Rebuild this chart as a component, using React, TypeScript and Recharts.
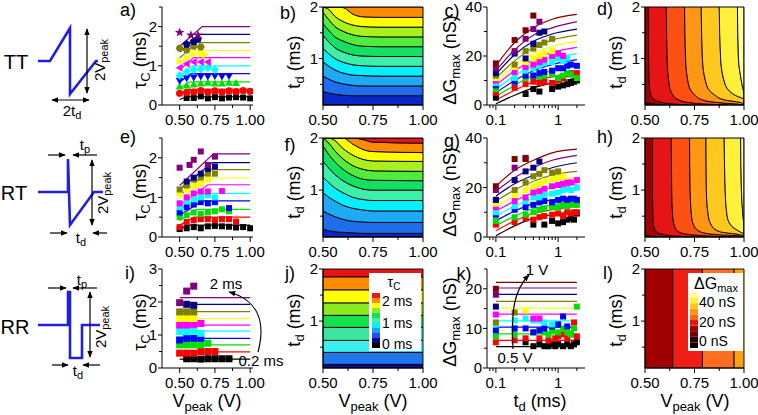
import React from 'react';
import { ComposedChart, LineChart, Line, Scatter, XAxis, YAxis, Area, ReferenceArea } from 'recharts';

const FONT = '"Liberation Sans", Arial, Helvetica, sans-serif';
const ML = 50, MR = 28, MT = 12, MB = 30;
const COLX: any = { a: [162, 253], b: [323, 423], c: [487, 585], d: [645, 744] };
const ROWY = [[7, 105], [138, 237], [269, 368]];

// ---------------- series colours / levels ----------------
const SERIES_COLORS = ['#000000', '#FF0000', '#00E000', '#0000FF', '#00FFFF', '#FF00FF', '#FFFF00', '#808000', '#000080', '#800080', '#800000'];
const TD_LEVELS = [0.2, 0.4, 0.6, 0.8, 1.0, 1.2, 1.4, 1.6, 1.8, 2.0];
const V_LEVELS = [0.5, 0.55, 0.6, 0.65, 0.7, 0.75, 0.8, 0.85, 0.9, 0.95, 1.0];
const A_MARKERS = ['square', 'circle', 'up', 'down', 'diamond', 'left', 'right', 'hex', 'pent', 'star'];

// ---------------- panel a (TT, tau vs Vpeak) ----------------
const aFitStart = [0.14, 0.27, 0.42, 0.58, 0.74, 0.9, 1.05, 1.2, 1.35, 1.5];
const aFitBend = [0.55, 0.56, 0.57, 0.58, 0.59, 0.6, 0.61, 0.62, 0.64, 0.66];
const aFitTop = [0.21, 0.4, 0.59, 0.8, 1.0, 1.21, 1.39, 1.59, 1.8, 2.0];
const aPts = [
  [[0.55, 0.18], [0.6, 0.18], [0.65, 0.22], [0.7, 0.17], [0.75, 0.2], [0.8, 0.17], [0.85, 0.19], [0.9, 0.2], [0.95, 0.19], [1.0, 0.17]],
  [[0.5, 0.3], [0.55, 0.32], [0.6, 0.33], [0.65, 0.37], [0.7, 0.33], [0.75, 0.36], [0.8, 0.33], [0.85, 0.36], [0.9, 0.34], [0.95, 0.37], [1.0, 0.35]],
  [[0.5, 0.47], [0.55, 0.5], [0.6, 0.52], [0.65, 0.55], [0.7, 0.57], [0.75, 0.55], [0.8, 0.55], [0.85, 0.57], [0.9, 0.56]],
  [[0.5, 0.62], [0.55, 0.68], [0.6, 0.7], [0.65, 0.73], [0.7, 0.73], [0.75, 0.74], [0.8, 0.73], [0.85, 0.74]],
  [[0.5, 0.75], [0.55, 0.85], [0.6, 0.9], [0.65, 0.92], [0.7, 0.95], [0.75, 0.9]],
  [[0.5, 0.95], [0.55, 1.05], [0.6, 1.1], [0.65, 1.1], [0.7, 1.1]],
  [[0.5, 1.12], [0.55, 1.2], [0.6, 1.3], [0.65, 1.3], [0.68, 1.28]],
  [[0.5, 1.45], [0.55, 1.4], [0.6, 1.5], [0.65, 1.48]],
  [[0.55, 1.55], [0.6, 1.62], [0.63, 1.68]],
  [[0.5, 1.85], [0.58, 1.78], [0.63, 1.78]],
];

// ---------------- panel e (RT, tau vs Vpeak) ----------------
const eFitStart = [0.18, 0.3, 0.42, 0.55, 0.68, 0.8, 0.95, 1.05, 1.2, 1.3];
const eFitBend = [0.55, 0.6, 0.63, 0.66, 0.68, 0.7, 0.71, 0.72, 0.73, 0.74];
const eFitTop = [0.3, 0.5, 0.7, 0.91, 1.1, 1.32, 1.49, 1.7, 1.88, 2.1];
const ePts = [
  [[0.5, 0.2], [0.55, 0.22], [0.6, 0.25], [0.65, 0.22], [0.7, 0.27], [0.75, 0.28], [0.8, 0.27], [0.85, 0.26], [0.9, 0.24], [0.95, 0.25], [1.0, 0.22]],
  [[0.5, 0.25], [0.55, 0.38], [0.6, 0.42], [0.65, 0.45], [0.7, 0.45], [0.75, 0.42], [0.8, 0.45], [0.85, 0.45], [0.9, 0.39]],
  [[0.5, 0.5], [0.55, 0.55], [0.6, 0.62], [0.65, 0.58], [0.7, 0.62], [0.75, 0.65], [0.8, 0.7], [0.85, 0.65]],
  [[0.5, 0.62], [0.55, 0.75], [0.6, 0.82], [0.65, 0.88], [0.7, 0.85], [0.75, 0.88], [0.85, 0.73]],
  [[0.5, 0.75], [0.55, 0.9], [0.6, 0.95], [0.65, 1.0], [0.7, 1.05], [0.75, 1.0]],
  [[0.5, 0.85], [0.55, 1.0], [0.6, 1.1], [0.65, 1.15], [0.7, 1.15], [0.8, 1.16]],
  [[0.5, 1.1], [0.55, 1.2], [0.6, 1.3], [0.65, 1.35], [0.7, 1.45]],
  [[0.5, 1.2], [0.55, 1.3], [0.6, 1.45], [0.65, 1.5], [0.7, 1.6], [0.75, 1.6]],
  [[0.55, 1.4], [0.6, 1.5], [0.65, 1.6], [0.7, 1.72], [0.75, 1.78]],
  [[0.5, 1.75], [0.57, 1.82], [0.6, 1.95], [0.65, 2.16], [0.7, 1.82], [0.75, 2.03]],
];

// ---------------- panel i (RR, tau vs Vpeak) ----------------
const iFitTop = [0.27, 0.49, 0.7, 0.9, 1.12, 1.3, 1.5, 1.71, 1.93, 2.13];
const iPts = [
  [[0.55, 0.28], [0.6, 0.28], [0.65, 0.27], [0.7, 0.28], [0.75, 0.28], [0.8, 0.28], [0.85, 0.28]],
  [[0.5, 0.45], [0.55, 0.45], [0.6, 0.45], [0.65, 0.5], [0.7, 0.5], [0.75, 0.5]],
  [[0.5, 0.7], [0.55, 0.7], [0.6, 0.7], [0.65, 0.7], [0.7, 0.75]],
  [[0.5, 0.85], [0.55, 0.9], [0.6, 0.9], [0.65, 0.9]],
  [[0.5, 1.1], [0.55, 1.1], [0.6, 1.12], [0.65, 1.05]],
  [[0.5, 1.3], [0.55, 1.3], [0.6, 1.32], [0.65, 1.35]],
  [[0.5, 1.5], [0.55, 1.5], [0.6, 1.5]],
  [[0.5, 1.7], [0.55, 1.7], [0.6, 1.7]],
  [[0.55, 1.93], [0.6, 1.9]],
  [[0.5, 1.98], [0.55, 2.33], [0.6, 2.48]],
];

// ---------------- panel c (TT, dG vs td) ----------------
const FIT_TD = [0.1, 0.2, 0.4, 0.8, 2.0];
const cFit = [
  [0.5, 4, 7, 9, 11], [2, 6, 9.5, 11.5, 13.5], [3.5, 8, 12, 14, 16], [5, 10, 14, 16.5, 18.5],
  [6.5, 12, 16, 19, 21], [8, 14, 18.5, 21.5, 23.5], [9.5, 16, 21, 24, 26], [11, 18, 23.5, 26.5, 28.5],
  [12.5, 20.5, 26, 29, 31], [14, 22.5, 28.5, 31.5, 34], [16, 25.5, 31.5, 35, 37],
];
const cPts = [
  [[0.1, 3], [0.3, 4.5], [0.4, 6.5], [0.5, 5.5], [0.8, 6.5], [1.0, 7.5], [1.2, 8], [1.4, 8.5], [1.6, 9], [1.8, 9.5], [2.0, 10]],
  [[0.1, 5], [0.2, 7], [0.3, 8.5], [0.4, 9.5], [0.5, 9], [0.6, 9.5], [0.8, 9], [1.0, 10], [1.2, 11], [1.4, 12.5], [1.6, 13], [1.8, 12.5], [2.0, 13]],
  [[0.1, 6.5], [0.2, 10], [0.3, 11], [0.4, 12], [0.5, 11.5], [0.6, 12], [0.8, 12.5], [1.0, 11], [1.2, 12], [1.4, 13], [1.6, 12.5], [2.0, 11]],
  [[0.1, 8], [0.2, 9.5], [0.3, 12], [0.4, 12], [0.5, 13], [0.6, 13.5], [0.8, 14], [1.0, 15], [1.2, 15], [1.4, 16], [1.6, 16.5], [2.0, 16]],
  [[0.1, 9], [0.2, 11], [0.3, 14], [0.4, 15], [0.5, 16], [0.6, 17], [0.8, 17.5], [1.0, 19], [1.2, 18], [1.4, 19]],
  [[0.1, 10], [0.2, 13.5], [0.3, 15.5], [0.4, 16.5], [0.5, 17.5], [0.6, 18.5], [0.8, 20], [1.0, 21], [1.2, 20]],
  [[0.1, 11], [0.2, 15.5], [0.3, 17.5], [0.4, 19], [0.5, 20], [0.6, 21], [0.8, 22]],
  [[0.1, 12], [0.2, 16.5], [0.3, 22], [0.4, 23], [0.5, 24.5], [0.6, 25.5], [0.8, 27]],
  [[0.1, 13], [0.2, 21], [0.3, 19], [0.4, 25], [0.5, 29.5], [0.6, 30]],
  [[0.1, 15], [0.2, 22], [0.3, 27], [0.4, 31], [0.5, 34]],
  [[0.1, 17], [0.2, 26.5], [0.3, 30.5], [0.4, 36.5]],
];

// ---------------- panel g (RT, dG vs td) ----------------
const gFit = [
  [0.5, 4.5, 7.5, 9, 10.5], [2.5, 6.5, 9.5, 11, 12.5], [4.5, 8.5, 11.5, 13, 14.5], [6.5, 10.5, 13.5, 15, 16.5],
  [8.5, 12.5, 15.5, 17.5, 19], [10.5, 14.5, 18, 20, 21.5], [12.5, 16.5, 20, 22.5, 24], [14.5, 19, 22.5, 25, 26.5],
  [16.5, 21.5, 25, 28, 30], [18.5, 24, 28, 31, 33], [20.5, 27, 31, 34, 35.5],
];
const gPts = [
  [[0.4, 5], [0.6, 5], [0.8, 6.5], [1.0, 5.5], [1.2, 6], [1.4, 7], [1.6, 7.5], [1.8, 7], [2.0, 9.5]],
  [[0.1, 5], [0.2, 6], [0.3, 7.5], [0.4, 7], [0.5, 8], [0.6, 8.5], [0.8, 9], [1.0, 9.5], [1.2, 8.5], [1.4, 10], [1.6, 9.5], [1.8, 10], [2.0, 10]],
  [[0.1, 6.5], [0.2, 8], [0.3, 9], [0.4, 10], [0.5, 11], [0.6, 11.5], [0.8, 12], [1.0, 12], [1.2, 13], [1.4, 12.5], [1.6, 13.5], [1.8, 13], [2.0, 13]],
  [[0.1, 9], [0.2, 11], [0.3, 12], [0.4, 13], [0.5, 14], [0.6, 14.5], [0.8, 14], [1.0, 15], [1.2, 15.5], [1.4, 15], [1.6, 15.5], [2.0, 15]],
  [[0.1, 10], [0.2, 12.5], [0.3, 14.5], [0.4, 16], [0.5, 16], [0.6, 17], [0.8, 17.5], [1.0, 18], [1.2, 19], [1.4, 19.5], [1.6, 19], [2.0, 20]],
  [[0.1, 12], [0.2, 14.5], [0.3, 16], [0.4, 18], [0.5, 18.5], [0.6, 19.5], [0.8, 20.5], [1.0, 21], [1.2, 21.5], [1.4, 22], [1.6, 22], [2.0, 23]],
  [[0.1, 13.5], [0.2, 17], [0.3, 19], [0.4, 20.5], [0.5, 21.5], [0.6, 22.5], [0.8, 23.5], [1.0, 24], [1.2, 24.5]],
  [[0.1, 15], [0.2, 19], [0.3, 22], [0.4, 24.5], [0.5, 25.5], [0.6, 27], [0.8, 26], [1.0, 26.5]],
  [[0.1, 15], [0.2, 23], [0.3, 26.5], [0.4, 28], [0.5, 30.5]],
  [[0.1, 19], [0.2, 28], [0.3, 32]],
  [[0.1, 20.5], [0.2, 31.5], [0.3, 31.5]],
];

// ---------------- panel k (RR, dG vs td) ----------------
const kFitTop = [5.4, 7.0, 8.6, 10.3, 11.9, 13.6, 15.1, 16.8, 18.6, 20.2, 21.6];
const kPts = [
  [[0.3, 6.5], [0.4, 5.5], [0.5, 6], [0.6, 5.5], [0.7, 5.5], [0.8, 6], [0.9, 5.5], [1.0, 6], [1.2, 5.5], [1.4, 6], [1.6, 5.5], [1.8, 6], [2.0, 6.5]],
  [[0.1, 6.5], [0.2, 7], [0.3, 7.5], [0.5, 7.5], [0.7, 7], [0.9, 7.5], [1.0, 8], [1.2, 8.5], [1.4, 7.5], [1.6, 8.5], [1.8, 11.5], [2.0, 8]],
  [[0.1, 8], [0.2, 8.5], [0.4, 9], [0.6, 9], [0.7, 8.5], [0.8, 9.5], [1.0, 9], [1.2, 10], [1.4, 9], [1.6, 8.5], [1.8, 10], [2.0, 15.5]],
  [[0.1, 9.5], [0.2, 10], [0.3, 10], [0.4, 9], [0.5, 9.5], [0.6, 10], [0.8, 10.5], [1.0, 11], [1.2, 13], [1.4, 10.5]],
  [[0.1, 11], [0.2, 12], [0.3, 12.5], [0.4, 12], [0.5, 12], [0.6, 11.5], [0.8, 11]],
  [[0.1, 13.5], [0.4, 12.5], [0.5, 12.5]],
  [[0.3, 14.5]],
  [[0.1, 11.5], [0.2, 14]],
  [[0.1, 15.5]],
  [[0.1, 18.5]],
  [[0.1, 20]],
];

// ---------------- contour maps ----------------
const TAU_BAND_COLORS = ['#0A28C8', '#1E6EEB', '#1EAAF5', '#00F0FF', '#3CF0AA', '#14E164', '#50EB3C', '#AAF01E', '#FFFF00', '#FF8C00', '#E61414'];
const bV = [0.5, 0.53, 0.56, 0.6, 0.65, 0.7, 0.8, 1.0];
const bLines = [
  [0.36, 0.33, 0.31, 0.29, 0.28, 0.28, 0.28, 0.28],
  [0.66, 0.6, 0.55, 0.51, 0.48, 0.47, 0.47, 0.47],
  [0.94, 0.85, 0.78, 0.72, 0.68, 0.67, 0.66, 0.66],
  [1.2, 1.09, 1.0, 0.93, 0.88, 0.86, 0.85, 0.85],
  [1.45, 1.32, 1.21, 1.13, 1.07, 1.05, 1.04, 1.04],
  [1.68, 1.54, 1.42, 1.34, 1.27, 1.24, 1.23, 1.23],
  [1.9, 1.75, 1.62, 1.53, 1.46, 1.43, 1.42, 1.42],
  [2, 1.95, 1.82, 1.72, 1.65, 1.62, 1.61, 1.61],
  [2, 2, 2, 1.99, 1.86, 1.81, 1.8, 1.8],
];
const fV = [0.5, 0.53, 0.56, 0.6, 0.65, 0.7, 0.75, 1.0];
const fLines = [
  [0.25, 0.22, 0.2, 0.19, 0.18, 0.17, 0.17, 0.17],
  [0.6, 0.54, 0.49, 0.44, 0.4, 0.39, 0.38, 0.38],
  [0.95, 0.86, 0.79, 0.71, 0.65, 0.62, 0.6, 0.6],
  [1.25, 1.14, 1.04, 0.95, 0.86, 0.82, 0.8, 0.8],
  [1.55, 1.42, 1.3, 1.18, 1.08, 1.02, 1.0, 1.0],
  [1.85, 1.68, 1.54, 1.4, 1.28, 1.21, 1.19, 1.18],
  [2, 1.9, 1.75, 1.6, 1.47, 1.4, 1.37, 1.36],
  [2, 2, 1.95, 1.8, 1.67, 1.59, 1.56, 1.55],
  [2, 2, 2, 2, 1.88, 1.78, 1.74, 1.72],
  [2, 2, 2, 2, 2, 1.97, 1.92, 1.9],
];
const G_BAND_COLORS = ['#000000', '#A00000', '#E61414', '#FF5014', '#FF9614', '#FFC81E', '#FFF03C', '#FFFF9B'];
const dTd = [0.1, 0.12, 0.15, 0.2, 0.3, 0.5, 1.0, 2.0];
const dLines = [
  [0.6, 0.54, 0.5, 0.5, 0.5, 0.5, 0.5, 0.5],
  [0.72, 0.64, 0.585, 0.55, 0.53, 0.522, 0.518, 0.517],
  [0.92, 0.8, 0.72, 0.67, 0.64, 0.622, 0.612, 0.608],
  [1, 0.96, 0.86, 0.79, 0.75, 0.72, 0.705, 0.7],
  [1, 1, 0.98, 0.9, 0.85, 0.81, 0.79, 0.784],
  [1, 1, 1, 1, 0.95, 0.905, 0.882, 0.875],
  [1, 1, 1, 1, 1, 0.99, 0.972, 0.967],
];
const hLines = [
  [0.58, 0.52, 0.5, 0.5, 0.5, 0.5, 0.5, 0.5],
  [0.75, 0.65, 0.59, 0.56, 0.545, 0.54, 0.538, 0.538],
  [0.95, 0.82, 0.72, 0.67, 0.65, 0.64, 0.635, 0.633],
  [1, 0.98, 0.85, 0.78, 0.75, 0.735, 0.728, 0.725],
  [1, 1, 0.97, 0.88, 0.84, 0.82, 0.81, 0.808],
  [1, 1, 1, 0.98, 0.94, 0.915, 0.905, 0.9],
  [1, 1, 1, 1, 1, 0.995, 0.987, 0.983],
];
const jBounds = [0.1, 0.17, 0.4, 0.63, 0.88, 1.11, 1.35, 1.6, 1.85, 2.0];
const jColors = ['#0A0A8C', '#1E78EB', '#3CF0F0', '#3CE6A0', '#14E150', '#8CEB1E', '#FFFF00', '#FF8C00', '#E61414'];
const lBounds = [0.5, 0.64, 0.79, 0.95, 1.0];
const lColors = ['#A00000', '#F01E14', '#FF6E1E', '#FFA014'];
const TAU_BAR = ['#000000', '#0A0A8C', '#1E50F0', '#1EA0F5', '#00F0FF', '#3CF0AA', '#14E150', '#8CEB1E', '#FFFF00', '#FF8C00', '#F01414'];
const G_BAR = ['#000000', '#2A0000', '#700000', '#A00000', '#E61414', '#FF6414', '#FF9614', '#FFC81E', '#FFF03C', '#FFFFA0'];

// ---------------- schematics ----------------
const ttWave = [[0, 0], [0.6, 0], [1.6, 1], [1.6, -1], [2.9, 0], [3.0, 0]];
const rtWave = [[0, 0], [1.5, 0], [1.5, 1], [1.6, -1], [2.8, 0], [3.25, 0]];
const rrWave = [[0, 0], [1.5, 0], [1.5, 1], [1.6, 1], [1.6, -1], [2.2, -1], [2.2, 0], [3.1, 0]];

// ---------------- ticks ----------------
const V_TICKS = [0.5, 0.625, 0.75, 0.875, 1.0];
const V_LABELS: any = [[0.5, '0.50'], [0.75, '0.75'], [1, '1.00']];
const LOG_TICKS = [0.08, 0.09, 0.1, 0.2, 0.3, 0.4, 0.5, 0.6, 0.7, 0.8, 0.9, 1, 2];
const LOG_LABELS: any = [[0.1, '0.1'], [1, '1']];
const TD_TICKS = [0.5, 1, 1.5, 2];
const TD_LABELS: any = [[1, '1'], [2, '2']];

const findLab = (labels: any[], v: number) => labels.find((L: any) => Math.abs(L[0] - v) < 1e-9);
const makeXTick = (labels: any[]) => (p: any) => {
  const l = findLab(labels, p.payload.value);
  return (
    <g>
      <line x1={p.x} x2={p.x} y1={p.y} y2={p.y + (l ? 5 : 3)} stroke="#000" strokeWidth={1} />
      {l && <text x={p.x} y={p.y + 8} dy="0.78em" textAnchor="middle" fontSize={15} fontFamily={FONT} fill="#000">{l[1]}</text>}
    </g>
  );
};
const makeYTick = (labels: any[]) => (p: any) => {
  const l = findLab(labels, p.payload.value);
  return (
    <g>
      <line x1={p.x - (l ? 4 : 3)} x2={p.x} y1={p.y} y2={p.y} stroke="#000" strokeWidth={1} />
      {l && <text x={p.x - 5} y={p.y} dy="0.35em" textAnchor="end" fontSize={15} fontFamily={FONT} fill="#000">{l[1]}</text>}
    </g>
  );
};

const xAxis = (domain: any, ticks: number[], labels: any[], extra: any = {}) => (
  <XAxis type="number" dataKey="x" domain={domain} ticks={ticks} allowDataOverflow interval={0}
    tickLine={false} tickSize={0} tickMargin={0} height={MB} axisLine={{ stroke: '#000', strokeWidth: 1 }}
    tick={makeXTick(labels)} {...extra} />
);
const yAxis = (domain: any, ticks: number[], labels: any[], extra: any = {}) => (
  <YAxis type="number" dataKey="y" domain={domain} ticks={ticks} allowDataOverflow interval={0}
    tickLine={false} tickSize={0} tickMargin={0} width={ML} axisLine={{ stroke: '#000', strokeWidth: 1 }}
    tick={makeYTick(labels)} {...extra} />
);

// ---------------- marker shapes ----------------
const ptsStr = (cx: number, cy: number, pts: number[][]) => pts.map(([dx, dy]) => `${cx + dx},${cy + dy}`).join(' ');
const regular = (n: number, r: number, rot: number) => Array.from({ length: n }, (_, i) => [r * Math.cos(rot + (i * 2 * Math.PI) / n), r * Math.sin(rot + (i * 2 * Math.PI) / n)]);
const starShape = Array.from({ length: 10 }, (_, i) => {
  const r = i % 2 === 0 ? 5 : 2.1;
  const a = -Math.PI / 2 + (i * Math.PI) / 5;
  return [r * Math.cos(a), r * Math.sin(a)];
});
const POLY: any = {
  up: [[0, -4], [4, 3], [-4, 3]],
  down: [[0, 4], [4, -3], [-4, -3]],
  diamond: [[0, -4.5], [4, 0], [0, 4.5], [-4, 0]],
  left: [[-4, 0], [3, -4], [3, 4]],
  right: [[4, 0], [-3, -4], [-3, 4]],
  hex: regular(6, 4, 0),
  pent: regular(5, 4.2, -Math.PI / 2),
  star: starShape,
};
const marker = (kind: string, color: string, size = 6) => (p: any) => {
  if (p.cx == null || p.cy == null) return <g />;
  if (kind === 'square') return <rect x={p.cx - size / 2} y={p.cy - size / 2} width={size} height={size} fill={color} />;
  if (kind === 'circle') return <circle cx={p.cx} cy={p.cy} r={3.6} fill={color} />;
  return <polygon points={ptsStr(p.cx, p.cy, POLY[kind])} fill={color} />;
};

const toXY = (pts: number[][]) => pts.map(([x, y]) => ({ x, y }));

// ---------------- panel frame ----------------
function Panel({ col, row, layout = 'horizontal', data, children }: any) {
  const [x0, x1] = COLX[col];
  const [y0, y1] = ROWY[row];
  const W = x1 - x0 + ML + MR;
  const H = y1 - y0 + MT + MB;
  return (
    <div style={{ position: 'absolute', left: x0 - ML, top: y0 - MT, width: W, height: H }}>
      <ComposedChart width={W} height={H} data={data} layout={layout} margin={{ top: MT, right: MR, bottom: 0, left: 0 }}>
        {children}
      </ComposedChart>
    </div>
  );
}

function tauScatterPanel(row: number, fitData: any[], pts: number[][][], markers: string[] | null, yMax: number, yTicks: number[], yLabels: any[]) {
  return (
    <Panel col="a" row={row}>
      {xAxis([0.375, 1.02], V_TICKS, V_LABELS)}
      {yAxis([0, yMax], yTicks, yLabels)}
      {fitData.map((d, i) => (
        <Line key={'f' + i} data={d} dataKey="y" stroke={SERIES_COLORS[i]} strokeWidth={1.2} dot={false} activeDot={false} isAnimationActive={false} type="linear" />
      ))}
      {pts.map((p, i) => (
        <Scatter key={'s' + i} data={toXY(p)} fill={SERIES_COLORS[i]} isAnimationActive={false}
          shape={marker(markers ? markers[i] : 'square', SERIES_COLORS[i], row === 2 ? 7 : 6)} />
      ))}
    </Panel>
  );
}

function gScatterPanel(row: number, fitData: any[], pts: number[][][], yMax: number, yTicks: number[], yLabels: any[], curve: string) {
  return (
    <Panel col="c" row={row}>
      {xAxis([0.072, 2.7], LOG_TICKS, LOG_LABELS, { scale: 'log' })}
      {yAxis([0, yMax], yTicks, yLabels)}
      {fitData.map((d, i) => (
        <Line key={'f' + i} data={d} dataKey="y" stroke={SERIES_COLORS[i]} strokeWidth={1.2} dot={false} activeDot={false} isAnimationActive={false} type={curve as any} />
      ))}
      {pts.map((p, i) => (
        <Scatter key={'s' + i} data={toXY(p)} fill={SERIES_COLORS[i]} isAnimationActive={false} shape={marker('square', SERIES_COLORS[i], 6)} />
      ))}
    </Panel>
  );
}

function tauContour(row: number, grid: number[], lines: number[][]) {
  const rows = grid.map((v, j) => {
    const r: any = { x: v, l0: 0.1 };
    lines.forEach((ln, i) => { r['l' + (i + 1)] = ln[j]; });
    r['l' + (lines.length + 1)] = 2.0;
    return r;
  });
  const nb = lines.length + 1;
  return (
    <Panel col="b" row={row} data={rows}>
      {xAxis([0.5, 1.0], V_TICKS, V_LABELS)}
      {yAxis([0.1, 2], TD_TICKS, TD_LABELS)}
      {Array.from({ length: nb }, (_, i) => (
        <Area key={i} dataKey={(r: any) => [r['l' + i], r['l' + (i + 1)]]} type="monotone" fill={TAU_BAND_COLORS[i]} fillOpacity={1}
          stroke="#000" strokeWidth={0.9} dot={false} activeDot={false} isAnimationActive={false} />
      ))}
      <ReferenceArea x1={0.5} x2={1} y1={0.1} y2={2} fill="#fff" fillOpacity={0} stroke="#000" strokeWidth={1} ifOverflow="visible" />
    </Panel>
  );
}

function gContour(row: number, lines: number[][]) {
  const rows = dTd.map((t, j) => {
    const r: any = { y: t, l0: 0.5 };
    lines.forEach((ln, i) => { r['l' + (i + 1)] = ln[j]; });
    r['l' + (lines.length + 1)] = 1.0;
    return r;
  });
  const nb = lines.length + 1;
  return (
    <Panel col="d" row={row} data={rows} layout="vertical">
      {xAxis([0.5, 1.0], V_TICKS, V_LABELS)}
      {yAxis([0.1, 2], TD_TICKS, TD_LABELS, { reversed: true })}
      {Array.from({ length: nb }, (_, i) => (
        <Area key={i} dataKey={(r: any) => [r['l' + i], r['l' + (i + 1)]]} type="monotone" fill={G_BAND_COLORS[i]} fillOpacity={1}
          stroke="#000" strokeWidth={0.9} dot={false} activeDot={false} isAnimationActive={false} />
      ))}
      <ReferenceArea x1={0.5} x2={1} y1={0.1} y2={2} fill="#fff" fillOpacity={0} stroke="#000" strokeWidth={1} ifOverflow="visible" />
    </Panel>
  );
}

function Schematic({ wave, cy }: any) {
  const x0 = 38, x1 = 104, pad = 4;
  const data = wave.map(([t, v]: number[]) => ({ t, v }));
  return (
    <div style={{ position: 'absolute', left: x0 - pad, top: cy - 33 - pad, width: x1 - x0 + 2 * pad, height: 66 + 2 * pad }}>
      <LineChart width={x1 - x0 + 2 * pad} height={66 + 2 * pad} data={data} margin={{ top: pad, right: pad, bottom: pad, left: pad }}>
        <XAxis type="number" dataKey="t" domain={[0, 3.3]} hide />
        <YAxis type="number" domain={[-1, 1]} hide />
        <Line dataKey="v" type="linear" stroke="#1F1FE0" strokeWidth={2.6} dot={false} activeDot={false} isAnimationActive={false} strokeLinejoin="miter" />
      </LineChart>
    </div>
  );
}

// ---------------- text helpers ----------------
function STxt({ x, y, main, sub = '', tail = '', size = 18, rotate = false, anchor = 'middle' }: any) {
  const s2 = Math.round(size * 0.7);
  const sh = size * 0.3;
  return (
    <text x={x} y={y} textAnchor={anchor} dominantBaseline="central" fontSize={size} fontFamily={FONT} fill="#000"
      transform={rotate ? `rotate(-90 ${x} ${y})` : undefined}>
      {main}
      {sub && <tspan fontSize={s2} dy={sh}>{sub}</tspan>}
      {tail && <tspan dy={sub ? -sh : 0}>{tail}</tspan>}
    </text>
  );
}

const PANEL_LETTERS: any = [['a)', 128, 10], ['b)', 288, 13], ['c)', 452, 11], ['d)', 605, 9], ['e)', 128, 137], ['f)', 290, 145], ['g)', 452, 141], ['h)', 605, 137], ['i)', 130, 273], ['j)', 290, 273], ['k)', 464, 274], ['l)', 608, 273]];

function Overlay() {
  const A = { stroke: '#000', strokeWidth: 1.2, markerEnd: 'url(#ah)' };
  const AA = { stroke: '#000', strokeWidth: 1.2, markerEnd: 'url(#ah)', markerStart: 'url(#ah)' };
  return (
    <svg width={758} height={415} style={{ position: 'absolute', left: 0, top: 0, pointerEvents: 'none' }}>
      <defs>
        <marker id="ah" viewBox="0 0 10 10" refX="9" refY="5" markerWidth="7" markerHeight="7" markerUnits="userSpaceOnUse" orient="auto-start-reverse">
          <path d="M0,1 L10,5 L0,9 z" fill="#000" />
        </marker>
      </defs>
      {PANEL_LETTERS.map(([t, x, y]: any) => (
        <text key={t} x={x} y={y} textAnchor="middle" dominantBaseline="central" fontSize={18} fontFamily={FONT}>{t}</text>
      ))}
      {/* y titles */}
      {[60, 192, 322].map((y) => <STxt key={'tc' + y} x={140} y={y} main="τ" sub="C" tail=" (ms)" rotate />)}
      {[[294, 62], [294, 192], [294, 320], [616, 62], [616, 192], [616, 320]].map(([x, y]) => <STxt key={'td' + x + y} x={x} y={y} main="t" sub="d" tail=" (ms)" rotate />)}
      {[[450, 60], [450, 192], [450, 322]].map(([x, y]) => <STxt key={'dg' + y} x={x} y={y} main="ΔG" sub="max" tail=" (nS)" rotate />)}
      {/* x titles */}
      {[207, 373, 695].map((x) => <STxt key={'vp' + x} x={x} y={401} main="V" sub="peak" tail=" (V)" />)}
      <STxt x={540} y={401} main="t" sub="d" tail=" (ms)" />

      {/* schematic labels */}
      <STxt x={16} y={62} main="TT" size={20} />
      <STxt x={14} y={193} main="RT" size={20} />
      <STxt x={15} y={327} main="RR" size={20} />
      <STxt x={99} y={60} main="2V" sub="peak" size={15} rotate />
      <STxt x={102} y={193} main="2V" sub="peak" size={15} rotate />
      <STxt x={100} y={327} main="2V" sub="peak" size={15} rotate />
      <STxt x={72} y={110} main="2t" sub="d" size={15} />
      <STxt x={85} y={144} main="t" sub="p" size={15} />
      <STxt x={81} y={237} main="t" sub="d" size={15} />
      <STxt x={82} y={279} main="t" sub="p" size={15} />
      <STxt x={78} y={370} main="t" sub="d" size={15} />
      {/* schematic arrows */}
      <line x1={87} y1={29} x2={87} y2={93} {...AA} />
      <line x1={52} y1={100} x2={89} y2={100} {...AA} />
      <line x1={48} y1={155} x2={65} y2={155} {...A} />
      <line x1={97} y1={155} x2={73} y2={155} {...A} />
      <line x1={92} y1={160} x2={92} y2={225} {...AA} />
      <line x1={50} y1={233} x2={67} y2={233} {...A} />
      <line x1={107} y1={233} x2={93} y2={233} {...A} />
      <line x1={48} y1={288} x2={66} y2={288} {...A} />
      <line x1={97} y1={288} x2={73} y2={288} {...A} />
      <line x1={90} y1={292} x2={90} y2={357} {...AA} />
      <line x1={52} y1={365} x2={68} y2={365} {...A} />
      <line x1={100} y1={365} x2={83} y2={365} {...A} />

      {/* i annotation */}
      <path d="M258,352 C266,322 258,300 229,292" fill="none" {...A} />
      <text x={226} y={283} textAnchor="middle" dominantBaseline="central" fontSize={15} fontFamily={FONT}>2 ms</text>
      <text x={261} y={360} textAnchor="middle" dominantBaseline="central" fontSize={15} fontFamily={FONT}>0.2 ms</text>
      {/* k annotation */}
      <path d="M513,349 C511,310 514,290 529,275" fill="none" {...A} />
      <text x={537} y={269} textAnchor="middle" dominantBaseline="central" fontSize={15} fontFamily={FONT}>1 V</text>
      <text x={515} y={357} textAnchor="middle" dominantBaseline="central" fontSize={15} fontFamily={FONT}>0.5 V</text>

      {/* j colour bar */}
      <rect x={369} y={273} width={52} height={78} fill="#fff" />
      <STxt x={394} y={282} main="τ" sub="C" size={14} />
      {TAU_BAR.map((c, i) => <rect key={'tb' + i} x={372} y={348 - (i + 1) * 5} width={8} height={5} fill={c} />)}
      {[['2 ms', 301], ['1 ms', 323], ['0 ms', 344]].map(([t, y]: any) => (
        <text key={t} x={382} y={y} dominantBaseline="central" fontSize={14} fontFamily={FONT}>{t}</text>
      ))}
      {/* l colour bar */}
      <rect x={688} y={273} width={55} height={78} fill="#fff" />
      <STxt x={716} y={283} main="ΔG" sub="max" size={16} />
      {G_BAR.map((c, i) => <rect key={'gb' + i} x={690} y={348 - (i + 1) * 5.6} width={8} height={5.6} fill={c} />)}
      {[['40 nS', 302], ['20 nS', 322], ['0 nS', 341]].map(([t, y]: any) => (
        <text key={t} x={699} y={y} dominantBaseline="central" fontSize={14} fontFamily={FONT}>{t}</text>
      ))}
    </svg>
  );
}

export default function App() {
  const aFits = TD_LEVELS.map((_, i) => [{ x: 0.5, y: aFitStart[i] }, { x: aFitBend[i], y: aFitTop[i] }, { x: 1.0, y: aFitTop[i] }]);
  const eFits = TD_LEVELS.map((_, i) => [{ x: 0.5, y: eFitStart[i] }, { x: eFitBend[i], y: eFitTop[i] }, { x: 1.0, y: eFitTop[i] }]);
  const iFits = TD_LEVELS.map((_, i) => [{ x: 0.5, y: iFitTop[i] }, { x: 1.0, y: iFitTop[i] }]);
  const cFits = V_LEVELS.map((_, i) => FIT_TD.map((t, j) => ({ x: t, y: cFit[i][j] })));
  const gFits = V_LEVELS.map((_, i) => FIT_TD.map((t, j) => ({ x: t, y: gFit[i][j] })));
  const kFits = V_LEVELS.map((_, i) => [{ x: 0.1, y: kFitTop[i] }, { x: 2.0, y: kFitTop[i] }]);
  const corner = [{ x: 0.5, y: 0.1 }, { x: 1, y: 2 }];

  return (
    <div style={{ position: 'absolute', left: 0, top: 0, width: 758, height: 415, background: '#fff', overflow: 'hidden', fontFamily: FONT }}>
      <Schematic wave={ttWave} cy={61} />
      <Schematic wave={rtWave} cy={192} />
      <Schematic wave={rrWave} cy={325} />

      {tauScatterPanel(0, aFits, aPts, A_MARKERS, 2.5, [0, 0.5, 1, 1.5, 2, 2.5], [[0, '0'], [1, '1'], [2, '2']])}
      {tauScatterPanel(1, eFits, ePts, null, 2.5, [0, 0.5, 1, 1.5, 2, 2.5], [[0, '0'], [1, '1'], [2, '2']])}
      {tauScatterPanel(2, iFits, iPts, null, 3, [0, 0.5, 1, 1.5, 2, 2.5, 3], [[0, '0'], [1, '1'], [2, '2'], [3, '3']])}

      {tauContour(0, bV, bLines)}
      {tauContour(1, fV, fLines)}
      <Panel col="b" row={2} data={corner}>
        {xAxis([0.5, 1.0], V_TICKS, V_LABELS)}
        {yAxis([0.1, 2], TD_TICKS, TD_LABELS)}
        {jColors.map((c, i) => (
          <ReferenceArea key={i} x1={0.5} x2={1} y1={jBounds[i]} y2={jBounds[i + 1]} fill={c} fillOpacity={1} stroke="#000" strokeWidth={0.9} ifOverflow="visible" />
        ))}
      </Panel>

      {gScatterPanel(0, cFits, cPts, 40, [0, 10, 20, 30, 40], [[0, '0'], [20, '20'], [40, '40']], 'monotone')}
      {gScatterPanel(1, gFits, gPts, 40, [0, 10, 20, 30, 40], [[0, '0'], [20, '20'], [40, '40']], 'monotone')}
      {gScatterPanel(2, kFits, kPts, 25, [0, 5, 10, 15, 20, 25], [[0, '0'], [10, '10'], [20, '20']], 'linear')}

      {gContour(0, dLines)}
      {gContour(1, hLines)}
      <Panel col="d" row={2} data={corner}>
        {xAxis([0.5, 1.0], V_TICKS, V_LABELS)}
        {yAxis([0.1, 2], TD_TICKS, TD_LABELS)}
        {lColors.map((c, i) => (
          <ReferenceArea key={i} x1={lBounds[i]} x2={lBounds[i + 1]} y1={0.1} y2={2} fill={c} fillOpacity={1} stroke="#000" strokeWidth={0.9} ifOverflow="visible" />
        ))}
      </Panel>

      <Overlay />
    </div>
  );
}
